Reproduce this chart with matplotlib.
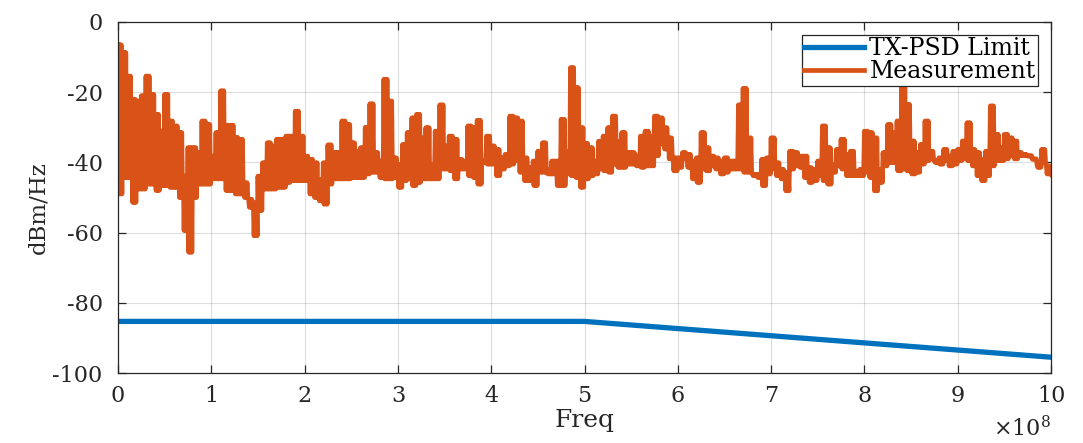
import numpy as np
import matplotlib
matplotlib.use("Agg")
import matplotlib.pyplot as plt

# ---------------- data ----------------
freq_step = 5e6  # Hz, sample spacing of the measurement envelope
# upper / lower envelope of the measured PSD (dBm/Hz), one value per 5 MHz
meas_hi = [
    -6.5, -8.7, -15.4, -22, -22.5, -21, -15.4, -20.6, -26.3, -31,
    -20.6, -28.2, -29.6, -31.5, -43.9, -35.8, -35.8, -37.2, -28.2, -29.2,
    -38.2, -31.5, -19.6, -29.4, -29.4, -32.9, -33.4, -45.8, -50.5, -51.5,
    -43.9, -40.1, -34.4, -35.3, -33.4, -33.4, -32.5, -32.5, -25.4, -32.5,
    -38.2, -39.1, -40.1, -44.8, -40.1, -35, -37.2, -37.2, -28.2, -29.2,
    -34.4, -36.8, -35.8, -30, -23.3, -37.2, -39.6, -16.3, -22.5, -38.7,
    -40.6, -34.9, -31.5, -27.3, -26.3, -33, -30.1, -40.6, -31.1, -23.6,
    -35.3, -32.5, -33.4, -39.1, -39.6, -29.6, -30.1, -28, -39.6, -32.5,
    -35.3, -36.3, -38.7, -37.7, -26.8, -27.3, -28.2, -38.7, -41.5, -39.6,
    -36.8, -34.4, -42, -39.6, -39.6, -27.7, -36.8, -13, -18.7, -30.1,
    -34.6, -35.8, -39.6, -34, -32.5, -30.1, -26.8, -34, -31.5, -37.2,
    -37.2, -38.2, -32.5, -31.1, -32.5, -26.8, -27.3, -30.1, -33, -38.7,
    -38.7, -37.2, -37.7, -39.6, -38.7, -31.5, -35.8, -38.2, -38.7, -39.6,
    -38.7, -39.6, -39.6, -23.6, -18.9, -33, -43.4, -43.4, -39.1, -38.7,
    -33, -40.1, -42, -42.9, -36.8, -37.2, -38.2, -38.2, -41.5, -42,
    -39.6, -29.6, -35.8, -40.6, -36.3, -33.4, -37.7, -36.8, -42.5, -42,
    -31.1, -31.5, -33, -42, -37.2, -29.2, -31.5, -28.2, -18, -23.5,
    -33.9, -37.2, -34.9, -28.2, -36.8, -39.6, -38.7, -36.3, -38.2, -36.8,
    -36.3, -33.9, -28.7, -36.3, -37.2, -39.1, -36.8, -23.9, -32, -35.8,
    -32, -33, -33.9, -37.2, -37.7, -38.2, -39.1, -40.6, -36.3, -41,
]
meas_lo = [
    -49, -44.3, -44.3, -51.4, -47.6, -47.6, -46.2, -46.2, -48, -46.6,
    -46.6, -47.1, -47.1, -50, -59.4, -65.6, -50, -46.2, -46.2, -46.2,
    -44.7, -44.7, -44.7, -48, -48, -49, -49, -50, -52.8, -60.9,
    -53.7, -47.6, -47.6, -47.6, -47.1, -47.1, -45.7, -45.2, -45.2, -45.2,
    -45.2, -49, -50, -50.9, -51.9, -46.2, -44.7, -44.7, -44.7, -44.7,
    -44.3, -44.3, -44.3, -43.3, -42.8, -42.8, -44.3, -44.7, -44.7, -44.3,
    -47.1, -45.2, -44.7, -46.6, -45.7, -44.7, -44.7, -44.7, -44.7, -41.9,
    -41.9, -42.4, -44.7, -41.9, -41.9, -43.8, -44.3, -46.2, -40, -40.5,
    -40.5, -43.8, -41.9, -41, -40.5, -39.5, -42.8, -45.2, -45.2, -46.6,
    -42.8, -42.8, -43.3, -43.3, -46.6, -46.6, -43.3, -43.8, -44.3, -47.1,
    -44.7, -43.8, -43.3, -41.9, -42.4, -42.8, -40.5, -41.4, -41.4, -40.5,
    -40.5, -41, -41.4, -41, -41, -38.1, -34.8, -36.2, -39, -42.4,
    -41.4, -39, -41.4, -44.7, -45.7, -41.9, -42.4, -41, -41.9, -43.3,
    -42.8, -41.9, -41.9, -41.9, -42.8, -42.8, -43.8, -44.3, -46.6, -43.3,
    -41.9, -43.8, -44.7, -48.1, -41.9, -41, -41.4, -44.3, -45.7, -45.2,
    -43.8, -45.2, -46.2, -42.8, -41, -41.9, -43.8, -43.8, -43.8, -43.8,
    -42.8, -44.3, -48.1, -45.7, -41, -40, -40, -42.4, -41.9, -42.4,
    -43.3, -42.8, -40.5, -39.5, -39, -40, -40.5, -39.5, -41, -40.5,
    -39.5, -39, -39.5, -41, -43.8, -45.2, -43.8, -41, -39.5, -39.5,
    -39, -38.1, -39, -38.1, -38.1, -38.1, -39, -41.4, -40, -43.3,
]
meas_end_freq = 1e9
meas_end_db = -43.5

# TX-PSD limit mask (Hz, dBm/Hz)
limit_freq = [0, 5e8, 1e9]
limit_db = [-85.3, -85.3, -95.5]

xtick_vals = [i * 1e8 for i in range(11)]
xtick_labels = [str(i) for i in range(11)]
ytick_vals = [0, -20, -40, -60, -80, -100]
ytick_labels = ['0', '-20', '-40', '-60', '-80', '-100']

blue = '#0072BD'
orange = '#D95319'

# ---------------- build measurement trace ----------------
# the measured trace oscillates quickly between its upper and lower envelope
n = len(meas_hi)
k = 3  # oscillations drawn per 5 MHz bin
f = np.arange(n) * freq_step
seq = np.empty((n, 2 * k))
seq[:, 0::2] = np.asarray(meas_hi)[:, None]
seq[:, 1::2] = np.asarray(meas_lo)[:, None]
xs = f[:, None] + np.arange(2 * k)[None, :] * freq_step / (2 * k)
mx = np.append(xs.ravel(), meas_end_freq)
my = np.append(seq.ravel(), meas_end_db)

# ---------------- plot ----------------
plt.rcParams['font.family'] = ['DejaVu Serif']
plt.rcParams['mathtext.fontset'] = 'dejavuserif'
plt.rcParams['path.simplify'] = False

fig = plt.figure(figsize=(10.83, 4.43), dpi=100)
ax = fig.add_axes([118 / 1083, 1 - 373 / 443, (1051 - 118) / 1083, (373 - 22) / 443])

ax.plot(limit_freq, limit_db, color=blue, lw=3.8, label='TX-PSD Limit')
ax.plot(mx, my, color=orange, lw=3.4, label='Measurement')

ax.set_xlim(0, 1e9)
ax.set_ylim(-100, 0)
ax.set_xticks(xtick_vals)
ax.set_xticklabels(xtick_labels)
ax.set_yticks(ytick_vals)
ax.set_yticklabels(ytick_labels)

ax.grid(True, color='#000000', alpha=0.13, lw=0.8)
ax.set_axisbelow(True)
for s in ax.spines.values():
    s.set_color('#262626')
    s.set_linewidth(0.9)
ax.tick_params(direction='in', length=6, width=0.9, colors='#262626',
               labelsize=16, top=True, right=True)
ax.tick_params(axis='y', pad=11)
ax.tick_params(axis='x', pad=9)
for lab in ax.get_xticklabels() + ax.get_yticklabels():
    lab.set_color('#262626')

ax.set_xlabel('Freq', fontsize=18, color='#262626', labelpad=1)
ax.set_ylabel('dBm/Hz', fontsize=16.5, color='#262626', labelpad=2, y=0.47)

ax.text(1.0, -0.122, r'$\times10^{8}$', transform=ax.transAxes, ha='right', va='top',
        fontsize=16, color='#262626')

leg = ax.legend(loc='upper right', fontsize=17, frameon=True, fancybox=False,
                framealpha=1, edgecolor='#262626', borderpad=0.1, labelspacing=0.0,
                handlelength=2.5, handletextpad=0.25, borderaxespad=0.55)
leg.get_frame().set_linewidth(0.9)

fig.savefig('out.png', dpi=100)
